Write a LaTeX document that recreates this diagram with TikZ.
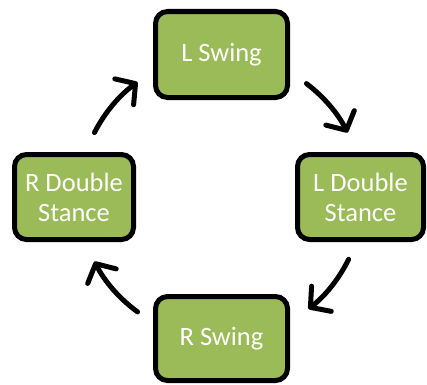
\documentclass[tikz,border=0pt]{standalone}
\usepackage{fontspec}
\setmainfont{Carlito}
\usetikzlibrary{arrows.meta}
\definecolor{phasegreen}{HTML}{9BBB59}
\tikzset{
  phase/.style={draw=black, line width=5pt, fill=phasegreen, rounded corners=12pt,
    text=white, align=center, font=\fontsize{26.5}{30}\selectfont, inner sep=0pt},
  cyclearrow/.style={line width=5pt, line cap=round,
    -{Straight Barb[length=14pt, width=32pt, line cap=round, round]}}
}
\begin{document}
\begin{tikzpicture}[x=1pt, y=1pt]
  \useasboundingbox (0,0) rectangle (427,384);
  % the four gait phases
  \node[phase, minimum width=132pt, minimum height=86pt] (lswing) at (221.5,329.5) {L Swing};
  \node[phase, minimum width=126pt, minimum height=85pt] (ldouble) at (360.5,187) {L Double\\Stance};
  \node[phase, minimum width=119pt, minimum height=85pt] (rdouble) at (74,187) {R Double\\Stance};
  \node[phase, minimum width=132pt, minimum height=84pt] (rswing) at (221.5,45.5) {R Swing};
  % centre of the cycle
  \coordinate (hub) at (221,187);
  % clockwise arrows between the phases
  \draw[cyclearrow] (hub) ++(153:142) arc[start angle=153, end angle=126, radius=142];
  \draw[cyclearrow] (hub) ++(53:142) arc[start angle=53, end angle=27, radius=142];
  \draw[cyclearrow] (hub) ++(-26:142) arc[start angle=-26, end angle=-52, radius=142];
  \draw[cyclearrow] (hub) ++(-126:142) arc[start angle=-126, end angle=-153, radius=142];
\end{tikzpicture}
\end{document}
